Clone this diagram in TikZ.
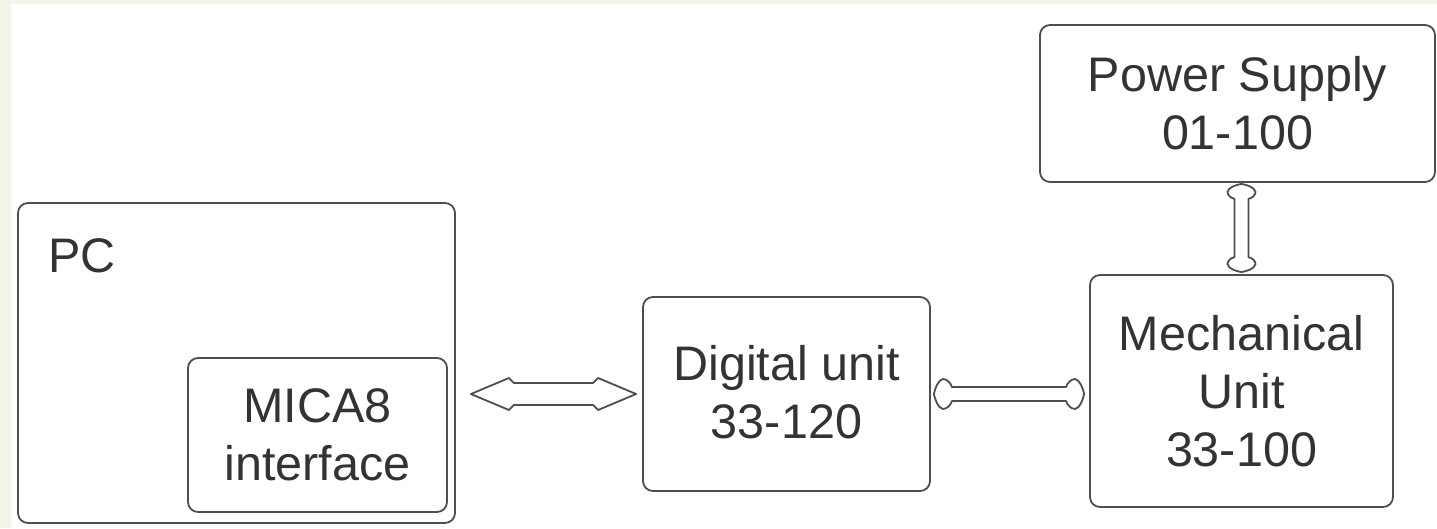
\documentclass[tikz,border=0pt]{standalone}
\usepackage{fontspec}
\setmainfont{Liberation Sans}
\usetikzlibrary{calc}
\definecolor{bggreen}{HTML}{F2F5E8}
\definecolor{edge}{HTML}{4E4E4E}
\definecolor{txt}{HTML}{333333}
\begin{document}
\begin{tikzpicture}[x=1pt,y=-1pt,
  box/.style={draw=edge,line width=1.8pt,rounded corners=10pt,inner sep=0pt,
    align=center,text=txt,font=\fontsize{48.5}{58}\selectfont},
  hollow/.style={draw=edge,line width=1.8pt,fill=white,line join=round}]
\useasboundingbox (0,0) rectangle (1437,528);
\fill[bggreen] (0,0) rectangle (1437,528);
\fill[white] (11,4) rectangle (1437,528);

\node[box,minimum width=437pt,minimum height=320pt] (pc) at (236.5,363) {};
\node[anchor=base west,inner sep=0pt,text=txt,font=\fontsize{48.5}{58}\selectfont] (pclabel) at (48,272) {PC};
\node[box,minimum width=259pt,minimum height=154pt] (mica) at (317.5,435) {MICA8\\interface};
\node[box,minimum width=287pt,minimum height=194pt,text depth=4pt] (dig) at (786.5,394) {Digital unit\\33-120};
\node[box,minimum width=303pt,minimum height=232pt] (mech) at (1241.5,391) {Mechanical\\Unit\\33-100};
\node[box,minimum width=395pt,minimum height=157pt] (pow) at (1237.5,103.5) {Power Supply\\01-100};

% left hollow double arrow
\coordinate (la) at ($(pc.east |- dig.west)+(15,0)$);
\coordinate (ra) at ($(dig.west)+(-6,0)$);
\draw[hollow] (la) -- ($(la)+(38,-16)$) -- ($(la)+(43,-11)$) -- ($(ra)+(-43,-11)$)
  -- ($(ra)+(-38,-16)$) -- (ra) -- ($(ra)+(-38,16)$) -- ($(ra)+(-43,11)$)
  -- ($(la)+(43,11)$) -- ($(la)+(38,16)$) -- cycle;

% middle hollow double arrow with rounded heads
\coordinate (lb) at ($(dig.east)+(3,0)$);
\coordinate (rb) at ($(mech.west |- dig.east)+(-5,0)$);
\draw[hollow] (lb) .. controls ($(lb)+(1,-5)$) and ($(lb)+(4,-14)$) .. ($(lb)+(9,-15)$)
  .. controls ($(lb)+(13,-15)$) and ($(lb)+(17,-11)$) .. ($(lb)+(18,-7)$)
  -- ($(rb)+(-18,-7)$)
  .. controls ($(rb)+(-17,-11)$) and ($(rb)+(-13,-15)$) .. ($(rb)+(-9,-15)$)
  .. controls ($(rb)+(-4,-14)$) and ($(rb)+(-1,-5)$) .. (rb)
  .. controls ($(rb)+(-1,5)$) and ($(rb)+(-4,14)$) .. ($(rb)+(-9,15)$)
  .. controls ($(rb)+(-13,15)$) and ($(rb)+(-17,11)$) .. ($(rb)+(-18,7)$)
  -- ($(lb)+(18,7)$)
  .. controls ($(lb)+(17,11)$) and ($(lb)+(13,15)$) .. ($(lb)+(9,15)$)
  .. controls ($(lb)+(4,14)$) and ($(lb)+(1,5)$) .. (lb) -- cycle;

% vertical hollow double arrow with rounded heads
\coordinate (tv) at ($(mech.north |- pow.south)+(0,1)$);
\coordinate (bv) at ($(mech.north)+(0,-2)$);
\draw[hollow] (tv) .. controls ($(tv)+(-5,1)$) and ($(tv)+(-13,3)$) .. ($(tv)+(-14,8)$)
  .. controls ($(tv)+(-14,11)$) and ($(tv)+(-11,14)$) .. ($(tv)+(-7,15)$)
  -- ($(bv)+(-7,-15)$)
  .. controls ($(bv)+(-11,-14)$) and ($(bv)+(-14,-11)$) .. ($(bv)+(-14,-8)$)
  .. controls ($(bv)+(-13,-3)$) and ($(bv)+(-5,-1)$) .. (bv)
  .. controls ($(bv)+(5,-1)$) and ($(bv)+(13,-3)$) .. ($(bv)+(14,-8)$)
  .. controls ($(bv)+(14,-11)$) and ($(bv)+(11,-14)$) .. ($(bv)+(7,-15)$)
  -- ($(tv)+(7,15)$)
  .. controls ($(tv)+(11,14)$) and ($(tv)+(14,11)$) .. ($(tv)+(14,8)$)
  .. controls ($(tv)+(13,3)$) and ($(tv)+(5,1)$) .. (tv) -- cycle;
\end{tikzpicture}
\end{document}
